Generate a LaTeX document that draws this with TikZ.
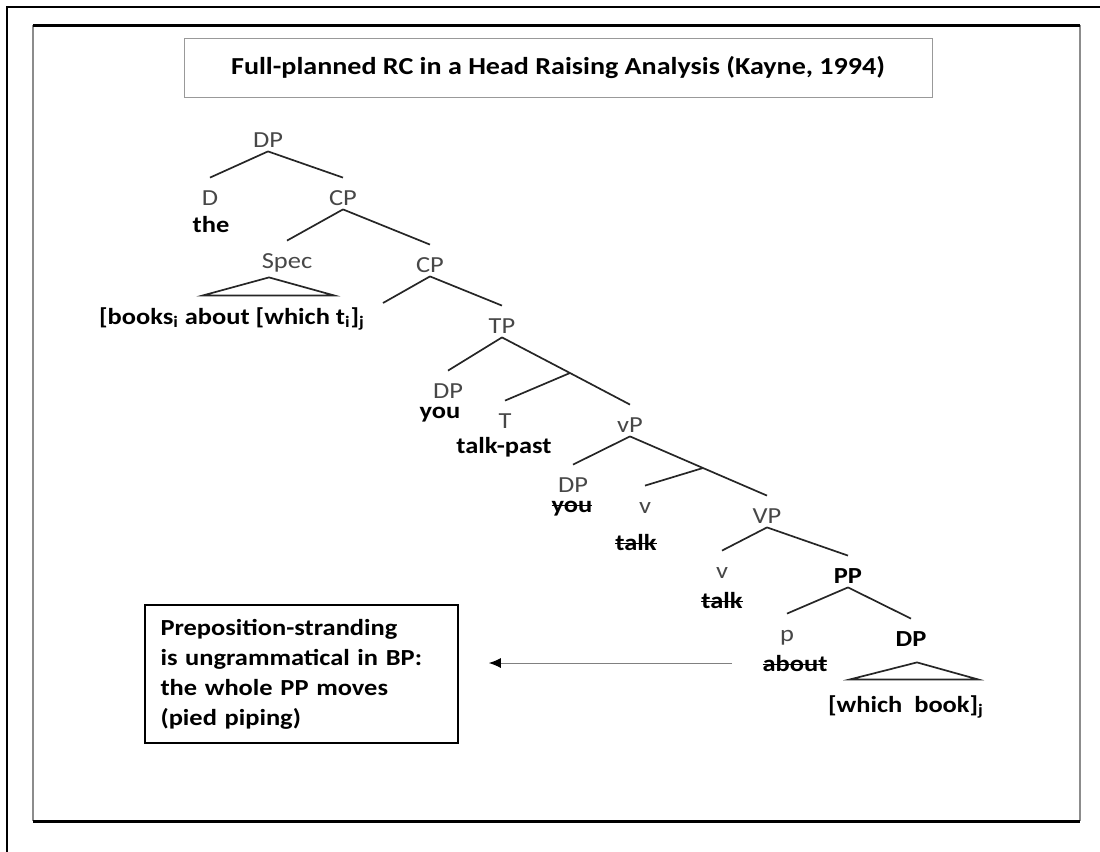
\documentclass[tikz,border=0pt]{standalone}
\usepackage{fontspec}
\setmainfont{Carlito}[FakeStretch=1.15]
\usetikzlibrary{arrows.meta}

% struck-out word
\newsavebox{\strkbox}
\newcommand{\strk}[1]{\sbox{\strkbox}{#1}\rlap{\raisebox{0.24em}{\rule{\wd\strkbox}{0.7pt}}}\usebox{\strkbox}}

\tikzset{
  cat/.style={anchor=base, inner xsep=0pt, inner ysep=2pt, text height=11.5pt, text depth=0pt, font=\fontsize{11.5}{14}\selectfont, text=black!72},
  catb/.style={cat, font=\fontsize{11.5}{14}\selectfont\bfseries, text=black},
  word/.style={anchor=base, inner sep=0pt, font=\fontsize{11.5}{14}\selectfont\bfseries},
  branch/.style={line width=0.85pt, draw=black!85},
  movearrow/.style={line width=0.5pt, draw=black!50, -{Latex[length=6pt,width=5pt,color=black]}, shorten <=15pt, shorten >=15pt},
}

\begin{document}
\begin{tikzpicture}[x=0.5pt,y=0.5pt,yscale=-1,xscale=1]
\useasboundingbox (0,0) rectangle (1100,852);

% Frames
\draw [line width=1pt]    (1100,7) -- (7,7) -- (7,852) ;
\draw [line width=1pt,color=black!45]    (33,25) -- (33,821) ;
\draw [line width=1pt,color=black!45]    (1080,25) -- (1080,821) ;
\draw [line width=1.5pt]    (33,25) -- (1080,25) ;
\draw [line width=1.5pt]    (33,821) -- (1080,821) ;

% Title
\draw (558,67.5) node (title) [draw=black!40, minimum width=374pt, minimum height=29.5pt] [font=\fontsize{12.2}{14}\selectfont\bfseries] {Full-planned RC in a Head Raising Analysis (Kayne, 1994)};

% Tree nodes
\draw (268,147) node (dpA) [cat] {DP};
\draw (210,205) node (dD) [cat] {D};
\draw (211,232) node (the) [word] {the};
\draw (343,205) node (cpA) [cat] {CP};
\draw (287,268) node (spec) [cat] {Spec};
\draw (232,324) node (books) [word] {[books\textsubscript{i} about [which t\textsubscript{i}]\textsubscript{j}};
\draw (430,272) node (cpB) [cat] {CP};
\coordinate (cnull) at (383,303);
\draw (502,333) node (tp) [cat] {TP};
\draw (448,398) node (dpB) [cat] {DP};
\draw (440,418) node (youA) [word] {you};
\coordinate (tbar) at (570,373);
\draw (505,428) node (tT) [cat] {T};
\draw (504,453) node (talkpast) [word] {talk-past};
\draw (630,432) node (vpA) [cat] {vP};
\draw (573,492) node (dpC) [cat] {DP};
\draw (572,512) node (youB) [word] {\strk{you}};
\coordinate (vbar) at (703,468);
\draw (645,513) node (vA) [cat] {v};
\draw (636,550) node (talkA) [word] {\strk{talk}};
\draw (767,523) node (vpB) [cat] {VP};
\draw (722,578) node (vB) [cat] {v};
\draw (722,608) node (talkB) [word] {\strk{talk}};
\draw (848,583) node (pp) [catb] {PP};
\draw (787,641) node (pP) [cat] {p};
\draw (795,671) node (about) [word] {\strk{about}};
\draw (911,646) node (dpD) [catb] {DP};
\draw (906,712) node (which) [word] {[which\ \ book]\textsubscript{j}};

% Branches
\draw [branch] (dpA.south) -- (dD.north);
\draw [branch] (dpA.south) -- (cpA.north);
\draw [branch] (cpA.south) -- (spec.north);
\draw [branch] (cpA.south) -- (cpB.north);
\draw [branch] (cpB.south) -- (cnull);
\draw [branch] (cpB.south) -- (tp.north);
\draw [branch] (tp.south) -- (dpB.north);
\draw [branch] (tp.south) -- (tbar) -- (vpA.north);
\draw [branch] (tbar) -- (tT.north);
\draw [branch] (vpA.south) -- (dpC.north);
\draw [branch] (vpA.south) -- (vbar) -- (vpB.north);
\draw [branch] (vbar) -- (vA.north);
\draw [branch] (vpB.south) -- (vB.north);
\draw [branch] (vpB.south) -- (pp.north);
\draw [branch] (pp.south) -- (pP.north);
\draw [branch] (pp.south) -- (dpD.north);

% Triangles
\draw [branch] ([shift={(-18,5)}]spec.south) -- ([shift={(-84,23)}]spec.south) -- ([shift={(47,23)}]spec.south) -- cycle;
\draw [branch] ([shift={(6,12)}]dpD.south) -- ([shift={(-61,29)}]dpD.south) -- ([shift={(67,29)}]dpD.south) -- cycle;

% Note and arrow
\draw (301.5,674) node (note) [draw, line width=0.8pt, minimum height=69pt, text width=141pt, inner xsep=7.75pt, align=left] [font=\fontsize{11.5}{15}\selectfont\bfseries] {Preposition-stranding\\is ungrammatical in BP:\\the whole PP moves\\(pied piping)};
\draw [movearrow] (about.west) -- (about.west -| note.east);

\end{tikzpicture}
\end{document}
